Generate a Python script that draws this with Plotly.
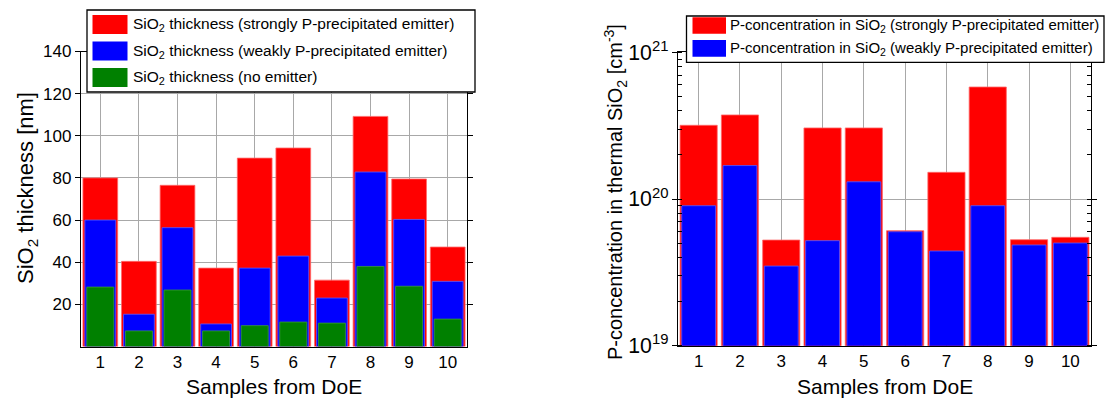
import plotly.graph_objects as go

# ---------------- data ----------------
samples = list(range(1, 11))
sample_labels = [str(s) for s in samples]

thick_strong = [80.0, 40.4, 76.5, 37.2, 89.4, 94.2, 31.5, 109.2, 79.5, 47.2]
thick_weak = [60.0, 15.3, 56.4, 10.7, 37.2, 42.9, 23.0, 82.8, 60.3, 30.9]
thick_none = [28.2, 7.4, 26.8, 7.4, 9.9, 11.6, 11.1, 38.0, 28.6, 13.0]

conc_strong = [3.18e20, 3.74e20, 5.25e19, 3.05e20, 3.05e20, 6.08e19, 1.52e20, 5.8e20, 5.28e19, 5.48e19]
conc_weak = [9.0e19, 1.69e20, 3.49e19, 5.2e19, 1.31e20, 5.98e19, 4.42e19, 9.0e19, 4.86e19, 5.01e19]

thick_ticks = [20, 40, 60, 80, 100, 120, 140]

left_names = [
    "SiO<sub>2</sub> thickness (strongly P-precipitated emitter)",
    "SiO<sub>2</sub> thickness (weakly P-precipitated emitter)",
    "SiO<sub>2</sub> thickness (no emitter)",
]
right_names = [
    "P-concentration in SiO<sub>2</sub> (strongly P-precipitated emitter)",
    "P-concentration in SiO<sub>2</sub> (weakly P-precipitated emitter)",
]
colors = ["#ff0000", "#0000ff", "#008000"]
edge_colors = ["#ff6a6a", "#5a5aff", "#3a9a3a"]

# ---------------- layout helpers ----------------
W, H = 1105, 402
FONT = "Liberation Sans, Arial, sans-serif"


def px(x):
    return x / W


def py(y):
    return 1 - y / H


fig = go.Figure()

left_series = [thick_strong, thick_weak, thick_none]
left_widths = [0.9, 0.8, 0.7]
for vals, name, c, ec, w in zip(left_series, left_names, colors, edge_colors, left_widths):
    fig.add_trace(go.Bar(x=samples, y=vals, name=name, width=w,
                         marker=dict(color=c, line=dict(color=ec, width=0.8)),
                         xaxis="x", yaxis="y", showlegend=False))

right_series = [conc_strong, conc_weak]
right_widths = [0.9, 0.82]
for vals, name, c, ec, w in zip(right_series, right_names, colors, edge_colors, right_widths):
    fig.add_trace(go.Bar(x=samples, y=vals, name=name, width=w,
                         marker=dict(color=c, line=dict(color=ec, width=0.8)),
                         xaxis="x2", yaxis="y2", showlegend=False))

grid_col = "#a8a8a8"
axis_common = dict(showline=True, linecolor="black", linewidth=1.3, mirror="ticks",
                   showgrid=True, gridcolor=grid_col, gridwidth=1.2, zeroline=False,
                   automargin=False,
                   tickfont=dict(family=FONT, size=17, color="black"))

fig.update_layout(
    width=W, height=H, autosize=False,
    margin=dict(l=0, r=0, t=0, b=0, pad=0, autoexpand=False),
    paper_bgcolor="white", plot_bgcolor="white",
    barmode="overlay",
    font=dict(family=FONT, color="black"),
    xaxis=dict(domain=[px(81), px(467)], range=[0.5, 10.5], tickmode="array",
               tickvals=samples, ticktext=sample_labels, ticks="", anchor="y",
               **axis_common),
    yaxis=dict(domain=[py(346.5), py(51.5)], range=[0, 140], tickmode="array",
               tickvals=thick_ticks, ticks="outside", ticklen=5, tickcolor="black",
               anchor="x", **axis_common),
    xaxis2=dict(domain=[px(678), px(1091)], range=[0.5, 10.5], tickmode="array",
                tickvals=samples, ticktext=sample_labels, ticks="", anchor="y2",
                **axis_common),
    yaxis2=dict(domain=[py(345.7), py(52.3)], type="log", range=[19, 21], dtick=1,
                exponentformat="power", ticks="outside", ticklen=5, tickcolor="black",
                minor=dict(ticks="inside", ticklen=4, tickcolor="black", dtick="D1",
                           showgrid=False),
                anchor="x2", **axis_common),
)

shapes = []
annotations = []

# axis titles
annotations.append(dict(text="SiO<sub>2</sub> thickness [nm]", x=px(27), y=py(188),
                        xref="paper", yref="paper", textangle=-90, showarrow=False,
                        font=dict(family=FONT, size=22, color="black"),
                        xanchor="center", yanchor="middle"))
annotations.append(dict(text="P-concentration in thermal SiO<sub>2</sub> [cm<sup>-3</sup>]",
                        x=px(615), y=py(192), xref="paper", yref="paper", textangle=-90,
                        showarrow=False, font=dict(family=FONT, size=20, color="black"),
                        xanchor="center", yanchor="middle"))
for cx in (274, 884.5):
    annotations.append(dict(text="Samples from DoE", x=px(cx), y=py(386), xref="paper",
                            yref="paper", showarrow=False,
                            font=dict(family=FONT, size=21, color="black"),
                            xanchor="center", yanchor="middle"))


def add_legend(box, sw_x, rows, names, cols, txt_x, fsize):
    x0, y0, x1, y1 = box
    shapes.append(dict(type="rect", xref="paper", yref="paper", x0=px(x0), x1=px(x1),
                       y0=py(y1), y1=py(y0), line=dict(color="black", width=1.3),
                       fillcolor="white", layer="above"))
    for (ra, rb), name, c in zip(rows, names, cols):
        shapes.append(dict(type="rect", xref="paper", yref="paper", x0=px(sw_x[0]),
                           x1=px(sw_x[1]), y0=py(rb), y1=py(ra), line=dict(width=0),
                           fillcolor=c, layer="above"))
        annotations.append(dict(text=name, x=px(txt_x), y=py((ra + rb) / 2),
                                xref="paper", yref="paper", showarrow=False,
                                xanchor="left", yanchor="middle",
                                font=dict(family=FONT, size=fsize, color="black")))


add_legend((87, 10, 475, 92), (92.5, 127.5), [(15, 34), (41.5, 60.5), (68, 87)],
           left_names, colors, 131, 15.5)
add_legend((686.5, 16, 1104, 62.3), (692.5, 726), [(17.3, 33.7), (40, 56.7)],
           right_names, colors[:2], 727.5, 15)

fig.update_layout(shapes=shapes, annotations=annotations)

fig.write_html("out.html", config={"responsive": False, "displayModeBar": False},
               post_script="document.body.style.margin='0';document.body.style.overflow='hidden';")
